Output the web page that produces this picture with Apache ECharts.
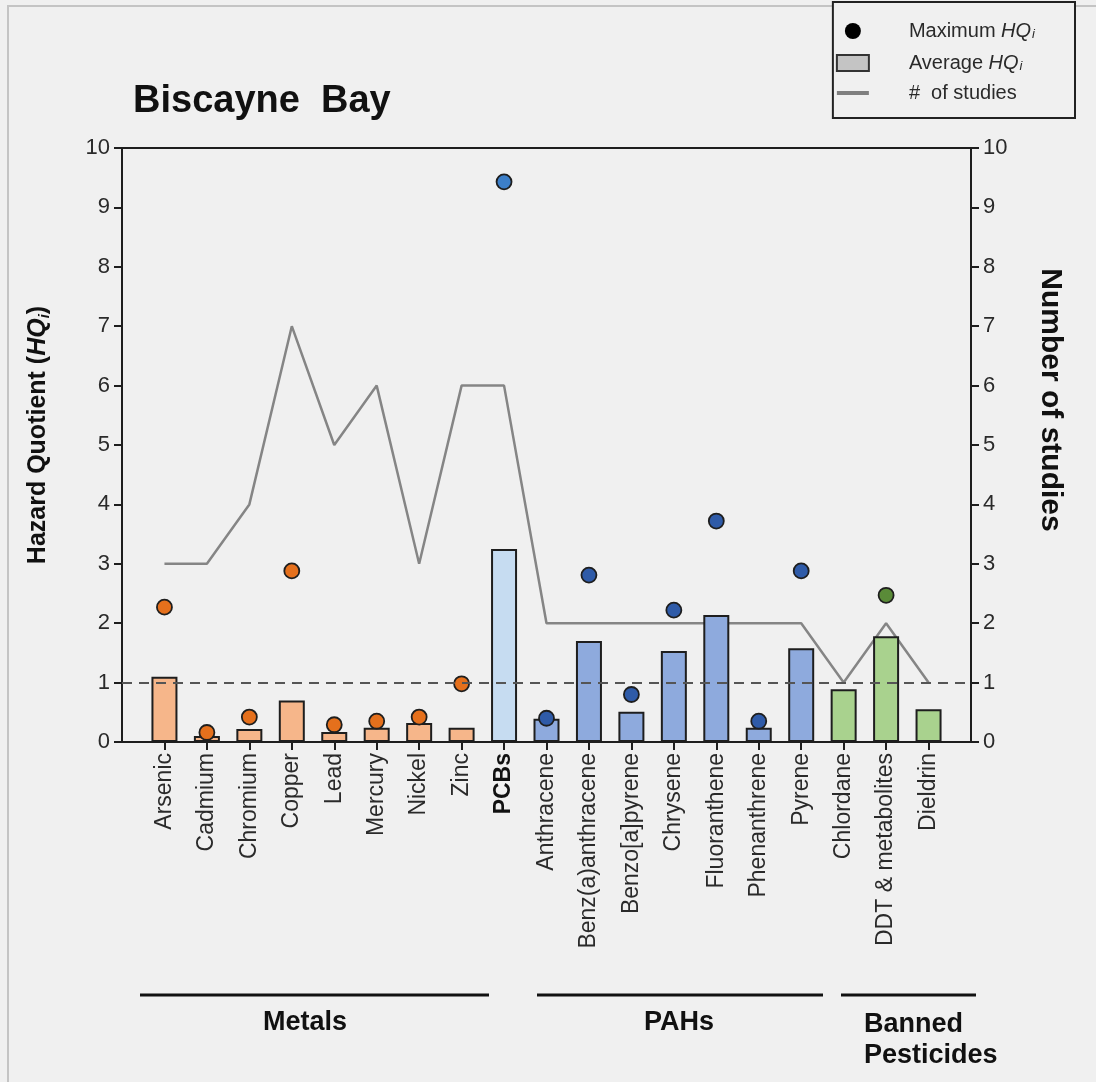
<!DOCTYPE html>
<html><head><meta charset="utf-8">
<script src="https://cdn.jsdelivr.net/npm/echarts@6/dist/echarts.min.js"></script>
<style>html,body{margin:0;padding:0;background:#fff}#c{width:1096px;height:1082px}</style>
</head><body><div id="c"></div>
<script>
// ---- data ----
const categories = ['Arsenic','Cadmium','Chromium','Copper','Lead','Mercury','Nickel','Zinc','PCBs',
  'Anthracene','Benz(a)anthracene','Benzo[a]pyrene','Chrysene','Fluoranthene','Phenanthrene','Pyrene',
  'Chlordane','DDT & metabolites','Dieldrin'];
const categoryGroup = ['metal','metal','metal','metal','metal','metal','metal','metal','pcb',
  'pah','pah','pah','pah','pah','pah','pah','pest','pest','pest'];
const averageHQ = [1.1, 0.1, 0.22, 0.7, 0.17, 0.24, 0.32, 0.24, 3.25,
  0.39, 1.7, 0.51, 1.53, 2.14, 0.24, 1.58, 0.89, 1.78, 0.55];
const maximumHQ = [2.27, 0.16, 0.42, 2.88, 0.29, 0.35, 0.42, 0.98, 9.43,
  0.4, 2.81, 0.8, 2.22, 3.72, 0.35, 2.88, null, 2.47, null];
const numberOfStudies = [3, 3, 4, 7, 5, 6, 3, 6, 6, 2, 2, 2, 2, 2, 2, 2, 1, 2, 1];
const groupLabels = ['Metals', 'PAHs', 'Banned\nPesticides'];

// ---- styles ----
const FONT = '"Liberation Sans", Arial, sans-serif';
const barColor = {metal:'#f6b68a', pcb:'#c6dcf1', pah:'#8eaadd', pest:'#a9d28e'};
const dotColor = {metal:'#e5701c', pcb:'#3c7fc9', pah:'#2f5ba8', pest:'#5a8b38'};
const EDGE = '#1e1e1e';
const TXT = '#2a2a2a';

const idx = categories.map((_, i) => i);
const barData = averageHQ.map((v, i) => ({value: [i, v], itemStyle: {color: barColor[categoryGroup[i]]}}));
const dotData = maximumHQ.map((v, i) => v == null ? null : ({value: [i, v], itemStyle: {color: dotColor[categoryGroup[i]]}})).filter(d => d);
const lineData = numberOfStudies.map((v, i) => [i, v]);

const chart = echarts.init(document.getElementById('c'), null, {renderer: 'canvas'});
const yAxisCommon = {
  type: 'value', min: 0, max: 10, interval: 1,
  axisLine: {show: true, onZero: false, lineStyle: {color: EDGE, width: 2}},
  axisTick: {show: true, length: 8, lineStyle: {color: EDGE, width: 2}},
  splitLine: {show: false},
  axisLabel: {color: TXT, fontSize: 22, fontFamily: FONT, margin: 12},
  nameLocation: 'middle'
};
const legendRich = {
  g: {width: 35, fontSize: 20, lineHeight: 20},
  n: {fontFamily: FONT, fontSize: 20, lineHeight: 20, color: TXT},
  i: {fontFamily: FONT, fontSize: 20, lineHeight: 20, color: TXT, fontStyle: 'italic'},
  s: {fontFamily: FONT, fontSize: 13, lineHeight: 20, color: TXT, fontStyle: 'italic', verticalAlign: 'bottom', padding: [9, 0, 0, 1]}
};
chart.setOption({
  backgroundColor: '#f0f0f0',
  animation: false,
  title: {
    text: 'Biscayne  Bay', left: 128, top: 78,
    textStyle: {fontFamily: FONT, fontWeight: 'bold', fontSize: 38, color: '#111'}
  },
  legend: {
    orient: 'vertical', right: 21, top: 2,
    padding: [17, 40, 15, 2], itemGap: 10, itemWidth: 32, itemHeight: 16,
    backgroundColor: '#f0f0f0', borderColor: '#222', borderWidth: 2,
    textStyle: {fontFamily: FONT, fontSize: 20, color: TXT, rich: legendRich},
    formatter: function (name) {
      if (name === 'Maximum HQi') return '{g|}{n|Maximum }{i|HQ}{s|i}';
      if (name === 'Average HQi') return '{g|}{n|Average }{i|HQ}{s|i}';
      return '{g|}{n|#  of studies}';
    },
    data: [
      {name: 'Maximum HQi', icon: 'circle', itemStyle: {color: '#000', borderWidth: 0}},
      {name: 'Average HQi', icon: 'rect', itemStyle: {color: '#c4c4c4', borderColor: '#333', borderWidth: 2}},
      {name: '# of studies', itemStyle: {color: 'rgba(0,0,0,0)', borderWidth: 0}, lineStyle: {color: '#7f7f7f', width: 4}}
    ]
  },
  grid: {left: 122, right: 125, top: 148, bottom: 340, show: true, borderColor: EDGE, borderWidth: 2, backgroundColor: 'transparent'},
  xAxis: {
    type: 'value', min: -1, max: 19, interval: 1,
    axisLine: {show: true, onZero: false, lineStyle: {color: EDGE, width: 2}},
    axisTick: {show: true, length: 8, customValues: idx, lineStyle: {color: EDGE, width: 2}},
    splitLine: {show: false},
    axisLabel: {
      customValues: idx, rotate: 90, margin: 11, color: TXT, fontSize: 23, fontFamily: FONT,
      formatter: function (v) { const n = categories[v]; return n === 'PCBs' ? '{b|' + n + '}' : n; },
      rich: {b: {fontWeight: 'bold', fontSize: 23, fontFamily: FONT, color: '#111'}}
    }
  },
  yAxis: [
    Object.assign({}, yAxisCommon, {
      position: 'left', nameGap: 70,
      name: '{n|Hazard Quotient (}{i|HQ}{s|i}{n|)}',
      nameTextStyle: {
        padding: [0, 0, 0, 20],
        rich: {
          n: {fontFamily: FONT, fontWeight: 'bold', fontSize: 25, color: '#111'},
          i: {fontFamily: FONT, fontWeight: 'bold', fontStyle: 'italic', fontSize: 25, color: '#111'},
          s: {fontFamily: FONT, fontWeight: 'bold', fontStyle: 'italic', fontSize: 15, color: '#111', verticalAlign: 'bottom', padding: [12, 0, 0, 0]}
        }
      }
    }),
    Object.assign({}, yAxisCommon, {
      position: 'right', nameGap: 64, nameRotate: -90, name: 'Number of studies',
      nameTextStyle: {fontFamily: FONT, fontWeight: 'bold', fontSize: 30, color: '#111', padding: [0, 90, 0, 0]}
    })
  ],
  graphic: [
    {type: 'rect', shape: {x: 8, y: 6, width: 1200, height: 1200}, style: {fill: 'none', stroke: '#c4c4c4', lineWidth: 2}, silent: true, z: -1},
    {type: 'line', shape: {x1: 140, y1: 995, x2: 489, y2: 995}, style: {stroke: '#111', lineWidth: 3}},
    {type: 'line', shape: {x1: 537, y1: 995, x2: 823, y2: 995}, style: {stroke: '#111', lineWidth: 3}},
    {type: 'line', shape: {x1: 841, y1: 995, x2: 976, y2: 995}, style: {stroke: '#111', lineWidth: 3}},
    {type: 'text', x: 305, y: 1009, style: {text: groupLabels[0], font: 'bold 27px ' + FONT, fill: '#111', textAlign: 'center'}},
    {type: 'text', x: 679, y: 1009, style: {text: groupLabels[1], font: 'bold 27px ' + FONT, fill: '#111', textAlign: 'center'}},
    {type: 'text', x: 864, y: 1009, style: {text: groupLabels[2], font: 'bold 27px ' + FONT, fill: '#111', textAlign: 'left', lineHeight: 31}}
  ],
  series: [
    {
      name: '# of studies', type: 'line', yAxisIndex: 1, data: lineData, symbol: 'none', z: 1,
      lineStyle: {color: '#858585', width: 2.5}, itemStyle: {color: '#858585'},
      markLine: {
        silent: true, symbol: 'none', label: {show: false},
        lineStyle: {color: '#555', type: [10, 7], width: 2},
        data: [{yAxis: 1}]
      }
    },
    {
      name: 'Average HQi', type: 'bar', data: barData, barWidth: 26, z: 2,
      itemStyle: {borderColor: EDGE, borderWidth: 2}
    },
    {
      name: 'Maximum HQi', type: 'scatter', data: dotData, symbolSize: 15, z: 3,
      itemStyle: {borderColor: EDGE, borderWidth: 1.8, opacity: 1}
    }
  ]
});
</script></body></html>
